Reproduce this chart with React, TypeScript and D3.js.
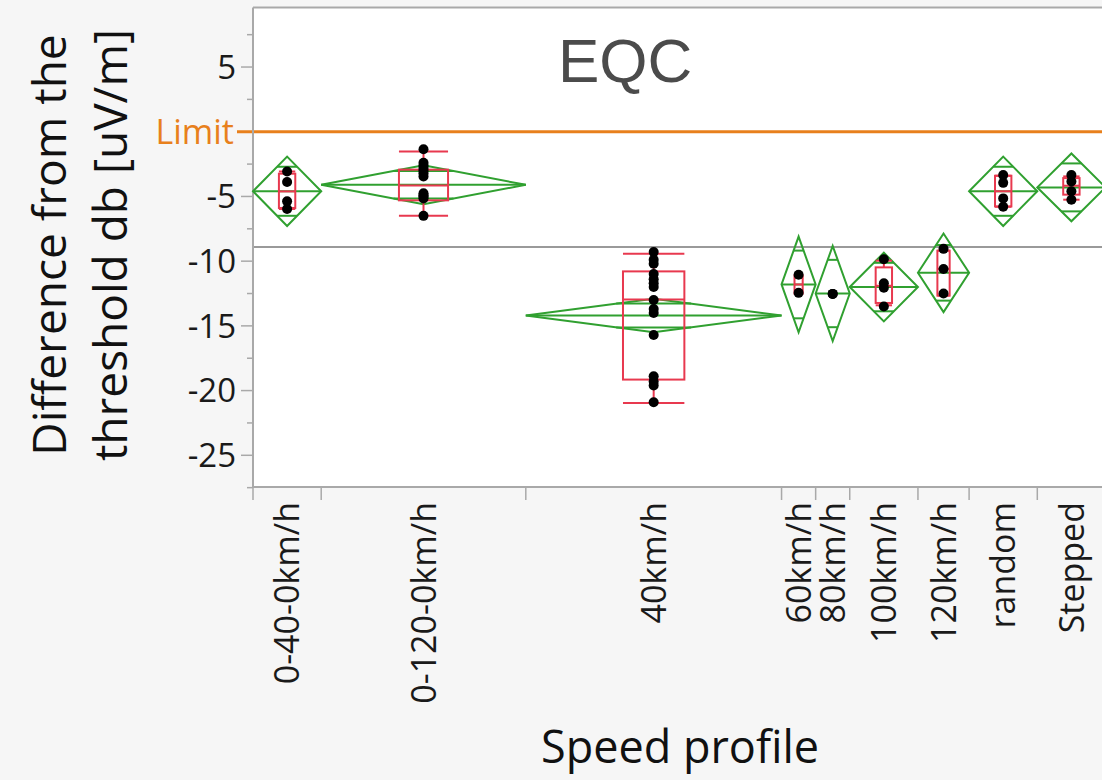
import React from "react";
import * as d3 from "d3";

const categories = ["0-40-0km/h", "0-120-0km/h", "40km/h", "60km/h", "80km/h", "100km/h", "120km/h", "random", "Stepped"];
const counts = [4, 12, 15, 2, 2, 4, 3, 4, 4];
const means = [-4.6, -4.1, -14.2, -11.8, -12.5, -12.0, -10.9, -4.6, -4.3];
const ciHalf = [2.68, 1.5, 1.3, 3.7, 3.68, 2.65, 3.04, 2.68, 2.62];
const boxLow = [-5.89, -5.3, -19.15, -12.5, -12.53, -13.23, -12.66, -5.77, -4.86];
const medians = [-4.61, -4.15, -12.97, -11.8, -12.53, -11.9, -10.6, -4.6, -4.17];
const boxHigh = [-3.24, -2.93, -10.79, -11.1, -12.53, -10.48, -9.19, -3.4, -3.58];
const whiskerLow = [-5.97, -6.49, -20.95, -12.5, -12.53, -13.41, -12.66, -5.8, -5.25];
const whiskerHigh = [-3.07, -1.52, -9.42, -11.1, -12.53, -9.96, -9.19, -3.4, -3.45];

const pts040 = [-3.07, -3.89, -5.38, -5.97];
const pts0120 = [-1.35, -2.4, -2.6, -2.8, -3.0, -3.2, -3.45, -4.75, -4.9, -5.0, -5.15, -6.5];
const pts40 = [-9.3, -9.9, -10.2, -11.0, -11.4, -11.7, -12.0, -13.0, -13.7, -14.0, -15.7, -18.9, -19.3, -19.6, -20.9];
const pts60 = [-11.05, -12.45];
const pts80 = [-12.53, -12.53];
const pts100 = [-9.85, -11.7, -12.05, -13.5];
const pts120 = [-9.05, -10.6, -12.5];
const ptsRandom = [-3.35, -3.95, -5.15, -5.8];
const ptsStepped = [-3.35, -3.85, -4.6, -5.25];
const points = [pts040, pts0120, pts40, pts60, pts80, pts100, pts120, ptsRandom, ptsStepped];

const limitValue = 0;
const refLineValue = -8.9;
const yMajorTicks = [5, -5, -10, -15, -20, -25];
const yMinorTicks = [7.5, 2.5, -2.5, -7.5, -12.5, -17.5, -22.5, -27.5];

const FONT = "'Segoe UI', 'Open Sans', 'Noto Sans', sans-serif";
const GREEN = "#30a030";
const RED = "#e8394f";
const ORANGE = "#e8801c";
const FRAME = "#a9a9a9";

export default function App() {
  const W = 1102, H = 780;
  const left = 253, top = 7.5, bottom = 487;
  const total = d3.sum(counts);
  const x = d3.scaleLinear().domain([0, total]).range([left, 1105.5]);
  const y = d3.scaleLinear().domain([-27.45, 9.6]).range([bottom, top]);
  const starts = [0, ...Array.from(d3.cumsum(counts))];

  return (
    <svg width={W} height={H} style={{ position: "absolute", left: 0, top: 0 }} fontFamily={FONT}>
      <rect x={0} y={0} width={W} height={H} fill="#f6f6f6" />
      <rect x={left} y={top} width={W - left} height={bottom - top} fill="#ffffff" />

      {/* reference lines */}
      <line x1={left} x2={W} y1={y(refLineValue)} y2={y(refLineValue)} stroke="#9a9a9a" strokeWidth={2} />
      <line x1={237} x2={W} y1={y(limitValue)} y2={y(limitValue)} stroke={ORANGE} strokeWidth={3} />

      {/* frame */}
      <line x1={left} x2={W} y1={top} y2={top} stroke={FRAME} strokeWidth={2} />
      <line x1={left} x2={left} y1={top} y2={bottom} stroke={FRAME} strokeWidth={2} />
      <line x1={left} x2={W} y1={bottom} y2={bottom} stroke={FRAME} strokeWidth={2} />

      {/* y ticks */}
      {yMajorTicks.map((t) => (
        <g key={"M" + t}>
          <line x1={241} x2={left} y1={y(t)} y2={y(t)} stroke={FRAME} strokeWidth={1.5} />
          <text x={236} y={y(t)} dy="0.36em" textAnchor="end" fontSize={33} fill="#1a1a1a">{String(t)}</text>
        </g>
      ))}
      {yMinorTicks.map((t) => (
        <line key={"m" + t} x1={247} x2={left} y1={y(t)} y2={y(t)} stroke={FRAME} strokeWidth={1.5} />
      ))}
      <text x={234} y={y(limitValue)} dy="0.36em" textAnchor="end" fontSize={34} fill={ORANGE}>Limit</text>

      {/* x ticks & labels */}
      {starts.map((s, i) => (
        <line key={"xt" + i} x1={x(s)} x2={x(s)} y1={bottom} y2={500} stroke={FRAME} strokeWidth={1.5} />
      ))}
      {categories.map((c, i) => {
        const cx = x(starts[i] + counts[i] / 2);
        return (
          <text key={"xl" + c} transform={`translate(${cx},502) rotate(-90)`} dy="0.36em" textAnchor="end" fontSize={34} fill="#1a1a1a">{c}</text>
        );
      })}

      {/* means diamonds */}
      {categories.map((c, i) => {
        const x0 = x(starts[i]);
        const x1 = x(starts[i] + counts[i]);
        const cx = (x0 + x1) / 2;
        const hw = (x1 - x0) / 2;
        const m = means[i];
        const h = ciHalf[i];
        const d = h / Math.SQRT2;
        const ow = hw * (1 - d / h);
        const path = d3.path();
        path.moveTo(x0, y(m));
        path.lineTo(cx, y(m + h));
        path.lineTo(x1, y(m));
        path.lineTo(cx, y(m - h));
        path.closePath();
        return (
          <g key={"dia" + c} stroke={GREEN} strokeWidth={2} fill="none">
            <path d={path.toString()} />
            <line x1={x0} x2={x1} y1={y(m)} y2={y(m)} />
            <line x1={cx - ow} x2={cx + ow} y1={y(m + d)} y2={y(m + d)} />
            <line x1={cx - ow} x2={cx + ow} y1={y(m - d)} y2={y(m - d)} />
          </g>
        );
      })}

      {/* box plots */}
      {categories.map((c, i) => {
        const x0 = x(starts[i]);
        const x1 = x(starts[i] + counts[i]);
        const cx = (x0 + x1) / 2;
        const bw = (x1 - x0) * 0.24;
        const bl = cx - bw / 2;
        return (
          <g key={"box" + c} stroke={RED} strokeWidth={2} fill="none">
            <line x1={cx} x2={cx} y1={y(boxHigh[i])} y2={y(whiskerHigh[i])} />
            <line x1={cx} x2={cx} y1={y(boxLow[i])} y2={y(whiskerLow[i])} />
            <line x1={bl} x2={bl + bw} y1={y(whiskerHigh[i])} y2={y(whiskerHigh[i])} />
            <line x1={bl} x2={bl + bw} y1={y(whiskerLow[i])} y2={y(whiskerLow[i])} />
            <rect x={bl} y={y(boxHigh[i])} width={bw} height={Math.max(0, y(boxLow[i]) - y(boxHigh[i]))} />
            <line x1={bl} x2={bl + bw} y1={y(medians[i])} y2={y(medians[i])} />
          </g>
        );
      })}

      {/* points */}
      {points.map((arr, i) => {
        const cx = x(starts[i] + counts[i] / 2);
        return arr.map((v, j) => (
          <circle key={"p" + i + "_" + j} cx={cx} cy={y(v)} r={5} fill="#000" />
        ));
      })}

      {/* titles */}
      <text x={558} y={82} fontSize={62} fill="#4b4b4b" fontFamily="'Liberation Sans', Arial, sans-serif">EQC</text>
      <text transform="translate(66,245) rotate(-90)" textAnchor="middle" fontSize={46} fill="#111">Difference from the</text>
      <text transform="translate(127,245) rotate(-90)" textAnchor="middle" fontSize={46} fill="#111">threshold db [uV/m]</text>
      <text x={680} y={763} textAnchor="middle" fontSize={45} fill="#111">Speed profile</text>
    </svg>
  );
}
